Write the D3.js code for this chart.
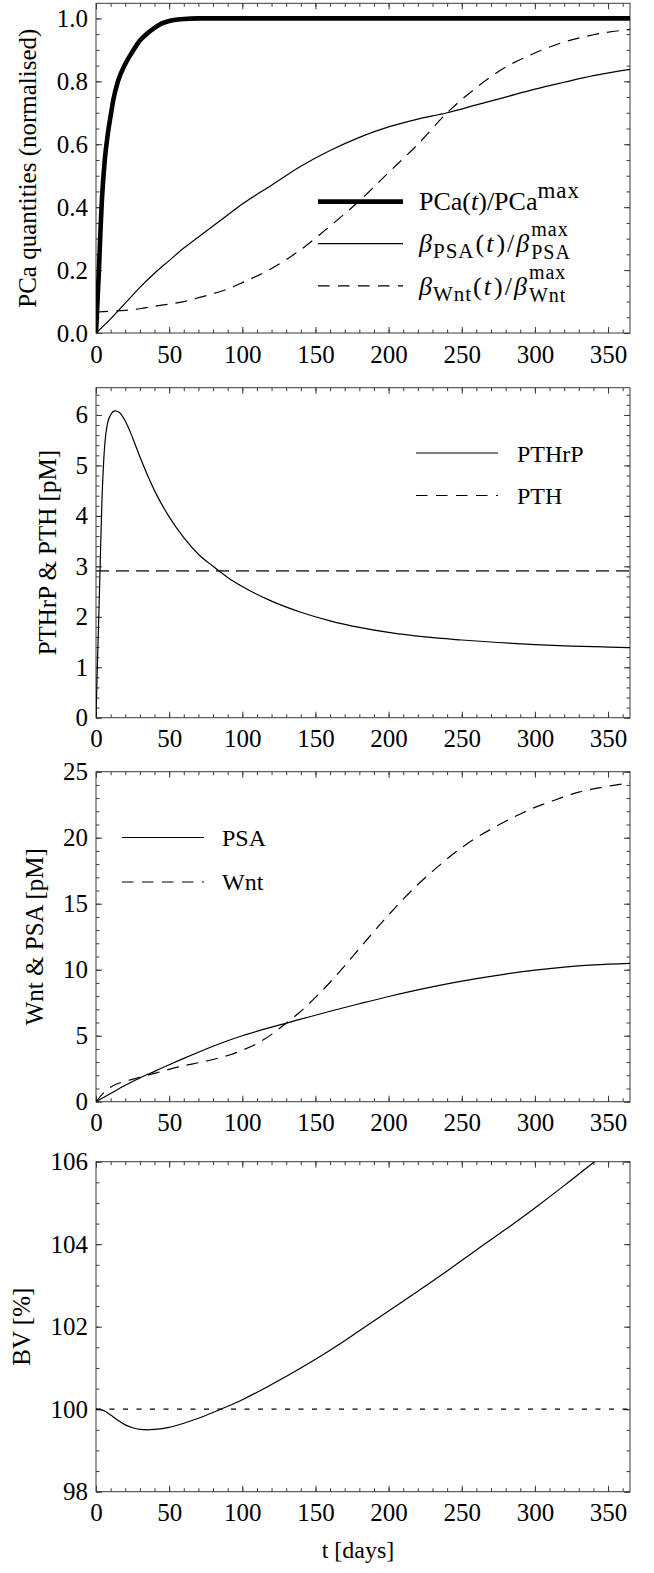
<!DOCTYPE html>
<html><head><meta charset="utf-8">
<script src="https://cdn.jsdelivr.net/npm/d3@7"></script>
<style>body{margin:0;background:#fff}svg{display:block}</style>
</head><body>
<svg id="chart" width="654" height="1573"></svg>
<script>
// ---------- DATA ----------
const xTicks = [0,50,100,150,200,250,300,350];

// Panel 1 (normalised)
const tPCa = [0,1,2,3,4,6,8,10,12,15,20,25,30,35,40,45,50,60,70,365];
const pcaNorm = [0,0.1,0.2,0.32,0.42,0.55,0.63,0.69,0.745,0.80,0.855,0.895,0.93,0.952,0.97,0.984,0.992,0.998,1.0,1.0];
const tBeta = [0,10,20,30,40,50,60,70,80,90,100,120,140,160,180,200,220,240,260,280,300,320,340,365];
const betaPSA = [0,0.045,0.095,0.145,0.19,0.23,0.27,0.305,0.34,0.375,0.41,0.47,0.53,0.58,0.622,0.655,0.68,0.70,0.725,0.75,0.775,0.797,0.818,0.838];
const betaWnt = [0.067,0.069,0.072,0.077,0.085,0.092,0.10,0.112,0.125,0.14,0.16,0.205,0.265,0.34,0.42,0.51,0.60,0.70,0.78,0.845,0.89,0.925,0.948,0.965];
const p1Ticks = [0,0.2,0.4,0.6,0.8,1.0];

// Panel 2
const tPTHrP = [0,1,2,3,4,5,6,8,10,13,16,20,25,30,35,40,50,60,70,80,90,100,120,140,160,180,200,225,250,275,300,325,350,365];
const pthrp = [0,1.1,2.1,3.2,4.25,4.95,5.42,5.85,6.0,6.08,6.05,5.88,5.55,5.17,4.82,4.5,3.98,3.57,3.24,3.0,2.78,2.6,2.31,2.09,1.92,1.79,1.69,1.6,1.54,1.49,1.45,1.42,1.40,1.39];
const tPTH = [0,365];
const pth = [2.91,2.91];
const p2Ticks = [0,1,2,3,4,5,6];

// Panel 3
const tPSA = [0,10,20,30,40,50,60,70,80,90,100,120,140,160,180,200,220,240,260,280,300,320,340,365];
const psa = [0,0.62,1.25,1.8,2.3,2.8,3.28,3.75,4.2,4.62,5.0,5.65,6.25,6.85,7.42,7.97,8.47,8.92,9.32,9.67,9.97,10.2,10.36,10.48];
const tWnt = [0,5,10,15,20,30,40,50,60,70,80,90,100,110,120,130,140,150,160,170,180,190,200,210,220,230,240,250,260,270,280,290,300,310,320,330,340,350,365];
const wnt = [0,0.65,1.1,1.38,1.55,1.85,2.15,2.45,2.72,2.95,3.2,3.5,3.9,4.4,5.1,5.95,6.85,7.9,9.05,10.3,11.6,12.9,14.15,15.35,16.45,17.45,18.4,19.25,20.0,20.65,21.25,21.8,22.3,22.7,23.1,23.45,23.7,23.9,24.15];
const p3Ticks = [0,5,10,15,20,25];

// Panel 4
const tBV = [0,5,10,15,20,25,30,35,40,50,60,70,80,90,100,120,140,160,180,200,220,240,260,280,300,320,340,350,365];
const bv = [100,99.97,99.86,99.73,99.62,99.55,99.51,99.5,99.51,99.56,99.66,99.78,99.92,100.07,100.23,100.6,101.0,101.43,101.9,102.38,102.86,103.35,103.86,104.36,104.88,105.42,105.98,106.26,106.7];
const tBVref = [0,365];
const bvRef = [100,100];
const p4Ticks = [98,100,102,104,106];

// ---------- DRAW ----------
const svg = d3.select("#chart");
const FONT = "'Liberation Serif','Times New Roman',serif";
const X0 = 96, X1 = 630;
const x = d3.scaleLinear().domain([0,365]).range([X0,X1]);
const xMinor = d3.range(0,366,10);
const FRAME = "#3a3a3a";

const panels = [
  {top:3.3, bottom:333, domain:[0,1.048], ticks:p1Ticks, minor:d3.range(0,21).map(i=>i*0.05), fmt:d3.format(".1f"),
   title:"PCa quantities (normalised)", titleX:36},
  {top:387.7, bottom:717.7, domain:[0,6.54], ticks:p2Ticks, minor:d3.range(0,33).map(i=>i*0.2), fmt:d3.format("d"),
   title:"PTHrP & PTH [pM]", titleX:56},
  {top:771.7, bottom:1101.7, domain:[0,25], ticks:p3Ticks, minor:d3.range(0,26), fmt:d3.format("d"),
   title:"Wnt & PSA [pM]", titleX:43},
  {top:1161.7, bottom:1491.7, domain:[98,106], ticks:p4Ticks, minor:d3.range(0,17).map(i=>98+i*0.5), fmt:d3.format("d"),
   title:"BV [%]", titleX:30}
];

panels.forEach((p,i)=>{
  p.y = d3.scaleLinear().domain(p.domain).range([p.bottom,p.top]);
  const g = svg.append("g");
  const cid = "clip"+i;
  svg.append("clipPath").attr("id",cid).append("rect")
    .attr("x",X0).attr("y",p.top).attr("width",X1-X0).attr("height",p.bottom-p.top);
  p.plot = svg.append("g").attr("clip-path",`url(#${cid})`);

  const style = sel => {
    sel.select(".domain").remove();
    sel.selectAll("line").attr("stroke",FRAME).attr("stroke-width",1);
    sel.attr("font-family",FONT).attr("font-size",25);
    sel.selectAll("text").attr("fill","#000");
  };
  const minorY = p.minor.filter(v=>v<=p.domain[1]+1e-9);
  g.append("g").attr("transform",`translate(0,${p.bottom})`)
    .call(d3.axisBottom(x).tickValues(xTicks).tickSize(-6).tickPadding(12).tickFormat(d3.format("d"))).call(style);
  g.append("g").attr("transform",`translate(0,${p.bottom})`)
    .call(d3.axisBottom(x).tickValues(xMinor).tickSize(-3.5).tickFormat("")).call(style);
  g.append("g").attr("transform",`translate(0,${p.top})`)
    .call(d3.axisTop(x).tickValues(xTicks).tickSize(-6).tickFormat("")).call(style);
  g.append("g").attr("transform",`translate(0,${p.top})`)
    .call(d3.axisTop(x).tickValues(xMinor).tickSize(-3.5).tickFormat("")).call(style);
  g.append("g").attr("transform",`translate(${X0},0)`)
    .call(d3.axisLeft(p.y).tickValues(p.ticks).tickSize(-6).tickPadding(8).tickFormat(p.fmt)).call(style);
  g.append("g").attr("transform",`translate(${X0},0)`)
    .call(d3.axisLeft(p.y).tickValues(minorY).tickSize(-3.5).tickFormat("")).call(style);
  g.append("g").attr("transform",`translate(${X1},0)`)
    .call(d3.axisRight(p.y).tickValues(p.ticks).tickSize(-6).tickFormat("")).call(style);
  g.append("g").attr("transform",`translate(${X1},0)`)
    .call(d3.axisRight(p.y).tickValues(minorY).tickSize(-3.5).tickFormat("")).call(style);
  g.append("rect").attr("x",X0).attr("y",p.top).attr("width",X1-X0).attr("height",p.bottom-p.top)
    .attr("fill","none").attr("stroke",FRAME).attr("stroke-width",1);
  const cy = (p.top+p.bottom)/2;
  svg.append("text").attr("transform",`translate(${p.titleX},${cy}) rotate(-90)`)
    .attr("text-anchor","middle").attr("font-family",FONT).attr("font-size",25).text(p.title);
});

function drawLine(p, ts, vs, opts){
  const data = ts.map((t,i)=>[t,vs[i]]);
  const line = d3.line().x(d=>x(d[0])).y(d=>p.y(d[1])).curve(d3.curveMonotoneX);
  p.plot.append("path").datum(data).attr("d",line).attr("fill","none")
    .attr("stroke",opts.color||"#000").attr("stroke-width",opts.width||1.2)
    .attr("stroke-dasharray",opts.dash||null).attr("stroke-linejoin","round");
}

const [P1,P2,P3,P4] = panels;
drawLine(P1,tBeta,betaWnt,{dash:"12,8"});
drawLine(P1,tBeta,betaPSA,{});
drawLine(P1,tPCa,pcaNorm,{width:4.6});
drawLine(P2,tPTH,pth,{dash:"13,7",color:"#4a4a4a",width:1.7});
drawLine(P2,tPTHrP,pthrp,{});
drawLine(P3,tWnt,wnt,{dash:"12,8"});
drawLine(P3,tPSA,psa,{});
drawLine(P4,tBVref,bvRef,{dash:"5,8.5",width:1.2});
drawLine(P4,tBV,bv,{});

// ---------- LEGENDS ----------
function legendLine(x1,x2,y,opts){
  svg.append("line").attr("x1",x1).attr("x2",x2).attr("y1",y).attr("y2",y)
    .attr("stroke",opts.color||"#000").attr("stroke-width",opts.width||1.2)
    .attr("stroke-dasharray",opts.dash||null);
}
function rich(x0,y,parts){
  let cx = x0;
  const put = (pt,xx)=>{
    const t = svg.append("text").attr("x",xx).attr("y",y+(pt.dy||0))
      .attr("font-family",FONT).attr("font-size",pt.size)
      .attr("letter-spacing",pt.ls||0)
      .attr("font-style",pt.it?"italic":"normal").text(pt.t);
    return t.node().getComputedTextLength();
  };
  parts.forEach(pt=>{
    if(pt.stack){
      const w = Math.max(...pt.stack.map(s=>put(s,cx)));
      cx += w;
    } else {
      cx += put(pt,cx) + (pt.after||0);
    }
  });
}
const L = 26, S = 21, ST = 20;
function betaRow(y, name){
  rich(419,y,[{t:"β",size:L,it:true,after:1},{t:name,size:S,dy:6,ls:1,after:1},
    {t:"(",size:L,after:2},{t:"t",size:L,it:true,after:3},{t:")",size:L,after:2},{t:"/",size:L,after:2},
    {t:"β",size:L,it:true,after:2},
    {stack:[{t:"max",size:ST,dy:-16,ls:1},{t:name,size:ST,dy:7,ls:1}]}]);
}
legendLine(318,403,201.6,{width:4.6});
rich(419,209.5,[{t:"PCa(",size:L},{t:"t",size:L,it:true},{t:")/PCa",size:L},{t:"max",size:23,dy:-12,ls:1}]);
legendLine(318,403,243.7,{});
betaRow(252,"PSA");
legendLine(318,403,285.9,{dash:"11.5,8.5"});
betaRow(294.5,"Wnt");

legendLine(416,498,453,{});
svg.append("text").attr("x",517).attr("y",461.5).attr("font-family",FONT).attr("font-size",24).text("PTHrP");
legendLine(416,498,495.5,{dash:"11.5,8.5"});
svg.append("text").attr("x",517).attr("y",504).attr("font-family",FONT).attr("font-size",24).text("PTH");

legendLine(122,204,837.5,{});
svg.append("text").attr("x",222).attr("y",846).attr("font-family",FONT).attr("font-size",24).text("PSA");
legendLine(122,204,882,{dash:"11.5,8.5"});
svg.append("text").attr("x",222).attr("y",890).attr("font-family",FONT).attr("font-size",24).text("Wnt");

svg.append("text").attr("x",358).attr("y",1558).attr("text-anchor","middle")
  .attr("font-family",FONT).attr("font-size",24).text("t [days]");
</script>
</body></html>
